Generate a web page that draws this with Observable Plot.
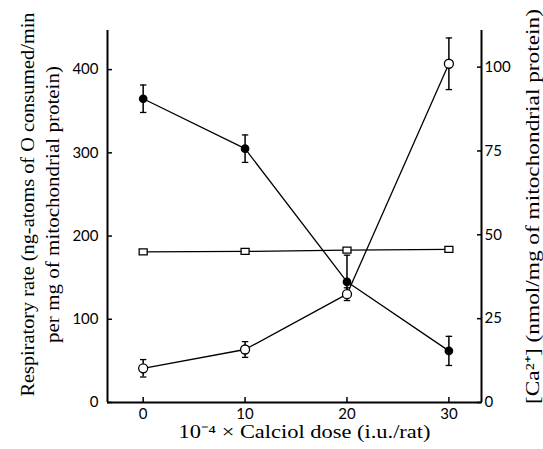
<!DOCTYPE html>
<html>
<head>
<meta charset="utf-8">
<script src="https://cdn.jsdelivr.net/npm/d3@7"></script>
<script src="https://cdn.jsdelivr.net/npm/@observablehq/plot@0.6"></script>
<style>
  html, body { margin: 0; padding: 0; background: #fff; }
</style>
</head>
<body>
<div id="chart"></div>
<script>
// Data
const doses = [0, 10, 20, 30];
const respRate = [365, 305, 145, 62];          // filled circles, left axis
const respErrUp = [16.5, 16.5, 32, 17.5];
const respErrDown = [16.5, 16.5, 15, 17.5];
const caContent = [10.2, 15.8, 32.3, 101];     // open circles, right axis [Ca2+]
const caErr = [2.6, 2.35, 1.9, 7.7];
const squareSeries = [181, 181.5, 183, 184];   // open squares, left axis
const xTicks = [0, 10, 20, 30];
const leftTicks = [0, 100, 200, 300, 400];
const rightTicks = [0, 25, 50, 75, 100];

const leftTitle1 = "Respiratory rate (ng-atoms of O consumed/min";
const leftTitle2 = "per mg of mitochondrial protein)";
const rightTitle = "[Ca²⁺] (nmol/mg of mitochondrial protein)";
const xTitle = "10⁻⁴ × Calciol dose (i.u./rat)";

const k = 4.03; // right-axis units -> left-axis units
const xDomain = [-3.5, 33.2];
const yDomain = [0, 447];

const filled = doses.map((d, i) => ({x: d, y: respRate[i], lo: respRate[i] - respErrDown[i], hi: respRate[i] + respErrUp[i]}));
const open = doses.map((d, i) => ({x: d, y: caContent[i] * k, lo: (caContent[i] - caErr[i]) * k, hi: (caContent[i] + caErr[i]) * k}));
const squares = doses.map((d, i) => ({x: d, y: squareSeries[i]}));

const cap = {draw(ctx, size) { const w = 3.2; ctx.moveTo(-w, 0); ctx.lineTo(w, 0); }};
const rectSym = {draw(ctx, size) { ctx.rect(-4, -3, 8, 6); }};

const serif = "'Liberation Serif', 'Times New Roman', serif";
const sans = "Lato, 'Open Sans', sans-serif";

const errCaps = (data) => [
  Plot.dot(data, {x: "x", y: "lo", symbol: cap, r: 3, stroke: "black", strokeWidth: 1.3}),
  Plot.dot(data, {x: "x", y: "hi", symbol: cap, r: 3, stroke: "black", strokeWidth: 1.3})
];

const chart = Plot.plot({
  width: 543,
  height: 449,
  marginLeft: 107,
  marginRight: 62,
  marginTop: 30,
  marginBottom: 47,
  style: {background: "white", fontFamily: sans, fontSize: "15px", color: "black"},
  x: {domain: xDomain},
  y: {domain: yDomain},
  marks: [
    // axis frame
    Plot.ruleX([xDomain[0], xDomain[1]], {stroke: "black", strokeWidth: 2}),
    Plot.ruleY([0], {stroke: "black", strokeWidth: 2}),
    // ticks (inward) and labels
    Plot.axisX({ticks: xTicks, tickSize: -5, text: null, strokeWidth: 1.5, label: null}),
    Plot.axisX({ticks: xTicks, tickSize: 0, tickPadding: 6, fontSize: 15, fontFamily: sans, label: null}),
    Plot.axisY({ticks: leftTicks, tickSize: -5, text: null, strokeWidth: 1.5, label: null}),
    Plot.axisY({ticks: leftTicks, tickSize: 0, tickPadding: 9, fontSize: 15, fontFamily: sans, label: null}),
    Plot.axisY({anchor: "right", ticks: rightTicks.map(v => v * k), tickSize: -5, text: null, strokeWidth: 1.5, label: null}),
    Plot.axisY({anchor: "right", ticks: rightTicks.map(v => v * k), tickFormat: d => String(Math.round(d / k)), tickSize: 0, tickPadding: 3, fontSize: 15, fontFamily: sans, label: null}),
    // lines
    Plot.line(squares, {x: "x", y: "y", stroke: "black", strokeWidth: 1.3}),
    Plot.line(filled, {x: "x", y: "y", stroke: "black", strokeWidth: 1.3}),
    Plot.line(open, {x: "x", y: "y", stroke: "black", strokeWidth: 1.3}),
    // error bars
    Plot.ruleX(filled, {x: "x", y1: "lo", y2: "hi", stroke: "black", strokeWidth: 1.5}),
    ...errCaps(filled.filter(d => d.x !== 20)),
    Plot.dot(filled.filter(d => d.x === 20), {x: "x", y: "hi", symbol: cap, r: 3, stroke: "black", strokeWidth: 1.3}),
    Plot.ruleX(open, {x: "x", y1: "lo", y2: "hi", stroke: "black", strokeWidth: 1.5}),
    ...errCaps(open),
    // points
    Plot.dot(squares, {x: "x", y: "y", symbol: rectSym, fill: "white", stroke: "black", strokeWidth: 1.3}),
    Plot.dot(filled, {x: "x", y: "y", r: 3.6, fill: "black", stroke: "black"}),
    Plot.dot(open, {x: "x", y: "y", r: 4.5, fill: "white", stroke: "black", strokeWidth: 1.3}),
    // axis titles
    Plot.text([leftTitle1], {
      frameAnchor: "left", rotate: -90, dx: -80, dy: -12,
      fontFamily: serif, fontSize: 19, fill: "black", textAnchor: "middle", lineAnchor: "middle"
    }),
    Plot.text([leftTitle2], {
      frameAnchor: "left", rotate: -90, dx: -55, dy: -12,
      fontFamily: serif, fontSize: 19, fill: "black", textAnchor: "middle", lineAnchor: "middle"
    }),
    Plot.text([rightTitle], {
      frameAnchor: "right", rotate: -90, dx: 51, dy: -10,
      fontFamily: serif, fontSize: 19, fill: "black", textAnchor: "middle", lineAnchor: "middle"
    }),
    Plot.text([xTitle], {
      frameAnchor: "bottom", dx: 10, dy: 30,
      fontFamily: serif, fontSize: 18.5, fill: "black", textAnchor: "middle", lineAnchor: "middle"
    })
  ]
});

// Stretch the serif titles to the set width seen in the figure
const titleLengths = new Map([[leftTitle1, 384], [leftTitle2, 277], [rightTitle, 395], [xTitle, 252]]);
d3.select(chart).selectAll("text").each(function() {
  const L = titleLengths.get(this.textContent);
  if (L) {
    this.setAttribute("textLength", L);
    this.setAttribute("lengthAdjust", "spacingAndGlyphs");
  }
});
document.getElementById("chart").appendChild(chart);
</script>
</body>
</html>
